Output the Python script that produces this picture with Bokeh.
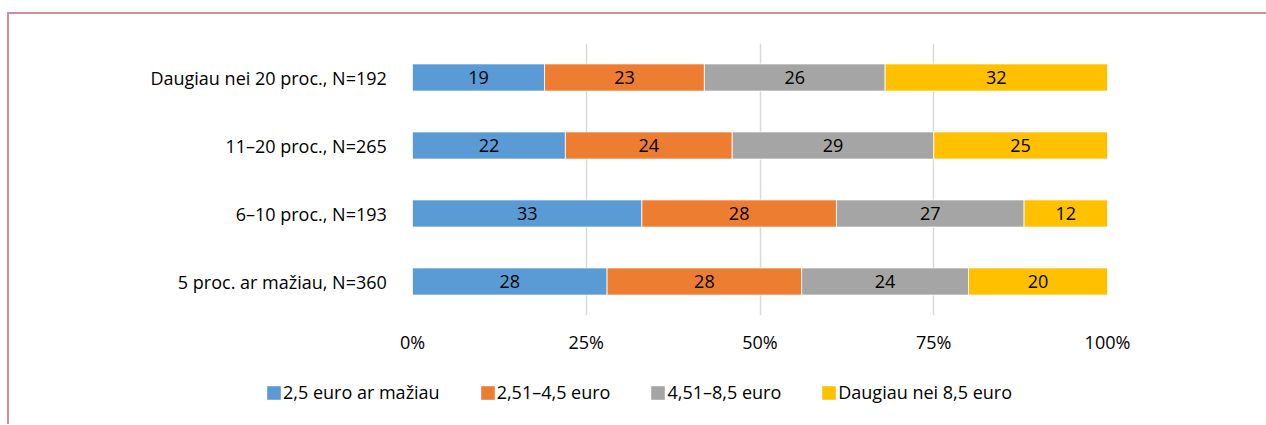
from bokeh.plotting import figure
from bokeh.layouts import column
from bokeh.models import (FactorRange, Range1d, FixedTicker, PrintfTickFormatter,
                          Legend, LegendItem, ColumnDataSource, LabelSet)
from bokeh.core.properties import value
from bokeh.embed import file_html
from bokeh.resources import INLINE

# ---- data ----
groups = ["5 proc. ar mažiau,  N=360", "6–10 proc.,  N=193",
          "11–20 proc.,  N=265", "Daugiau nei 20 proc.,  N=192"]
series = ["2,5 euro ar mažiau", "2,51–4,5 euro", "4,51–8,5 euro", "Daugiau nei 8,5 euro"]
s1 = [28, 33, 22, 19]
s2 = [28, 28, 24, 23]
s3 = [24, 27, 29, 26]
s4 = [20, 12, 25, 32]
colors = ["#5B9BD5", "#ED7D31", "#A5A5A5", "#FFC000"]
x_ticks = [0, 25, 50, 75, 100]

FONT = "Open Sans"
FS = "18px"
W = 1257

p = figure(width=W, height=346, y_range=FactorRange(*groups), x_range=Range1d(0, 100),
           output_backend="svg", toolbar_location=None,
           min_border_left=403, min_border_right=159, min_border_top=29, min_border_bottom=45)
p.frame_align = False

src = ColumnDataSource({"g": groups, "s1": s1, "s2": s2, "s3": s3, "s4": s4})
keys = ["s1", "s2", "s3", "s4"]
rends = p.hbar_stack(keys, y="g", height=0.4, color=colors, source=src,
                     line_color="white", line_width=0.8)

# data labels at segment centres
vals = [s1, s2, s3, s4]
lx, ly, lt = [], [], []
for i in range(len(groups)):
    cum = 0
    for v in vals:
        lx.append(cum + v[i] / 2)
        ly.append(groups[i])
        lt.append(str(v[i]))
        cum += v[i]
lsrc = ColumnDataSource(dict(x=lx, y=ly, t=lt))
p.add_layout(LabelSet(x="x", y="y", text="t", source=lsrc, text_align="center",
                      text_baseline="middle", text_font=value(FONT),
                      text_font_size=value(FS), text_color="#000000"))

# axes
p.xaxis.ticker = FixedTicker(ticks=x_ticks)
p.xaxis.formatter = PrintfTickFormatter(format="%d%%")
for ax in (p.xaxis[0], p.yaxis[0]):
    ax.axis_line_color = None
    ax.major_tick_line_color = None
    ax.minor_tick_line_color = None
    ax.major_tick_out = 0
    ax.major_tick_in = 0
    ax.minor_tick_out = 0
    ax.major_label_text_font = FONT
    ax.major_label_text_font_size = FS
    ax.major_label_text_color = "#000000"
p.xaxis.major_label_standoff = 14
p.yaxis.major_label_standoff = 21

p.xgrid.ticker = FixedTicker(ticks=x_ticks)
p.xgrid.grid_line_color = "#D9D9D9"
p.xgrid.grid_line_width = 1.5
p.ygrid.grid_line_color = None
p.outline_line_color = None
p.y_range.range_padding = 0

# legend strip below the chart (hidden copies of the bars supply the swatches)
p2 = figure(width=W, height=64, y_range=FactorRange(*groups), x_range=Range1d(0, 100),
            output_backend="svg", toolbar_location=None,
            x_axis_type=None, y_axis_type=None,
            min_border_left=0, min_border_right=0, min_border_top=0, min_border_bottom=0)
p2.frame_align = False
p2.grid.visible = False
p2.outline_line_color = None
swatches = p2.hbar_stack(keys, y="g", height=0.4, color=colors, source=src,
                         line_color=None, visible=False)
legend = Legend(items=[LegendItem(label=s, renderers=[r]) for s, r in zip(series, swatches)],
                orientation="horizontal", location=(256, 20),
                glyph_width=17, glyph_height=17, label_standoff=1, spacing=39,
                padding=0, margin=0, border_line_color=None, background_fill_alpha=0,
                label_text_font=FONT, label_text_font_size=FS, label_text_color="#000000")
p2.add_layout(legend, "center")

layout = column(p, p2, spacing=0)
layout.styles = {"border-top": "2px solid #D9899C", "border-left": "2px solid #D9899C",
                 "margin-top": "12px", "margin-left": "7px"}

open("out.html", "w").write(file_html(layout, INLINE))
